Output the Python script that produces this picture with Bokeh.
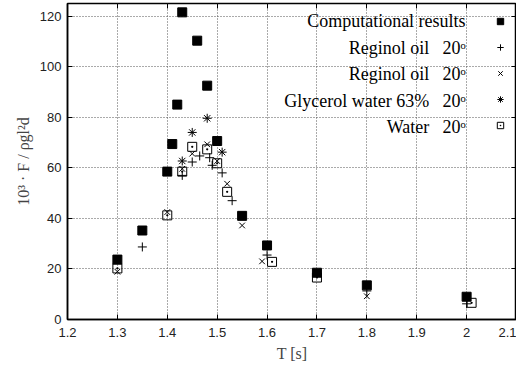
from bokeh.plotting import figure
from bokeh.models import LinearAxis, Legend, LegendItem, Range1d, ColumnDataSource
from bokeh.core.properties import value
from bokeh.embed import file_html
from bokeh.resources import INLINE

# Computational results (filled squares)
comp_T = [1.30, 1.35, 1.40, 1.41, 1.42, 1.43, 1.46, 1.48, 1.50, 1.55, 1.60, 1.70, 1.80, 2.00]
comp_F = [23.7, 35.2, 58.5, 69.4, 85.0, 121.5, 110.3, 92.5, 70.6, 41.0, 29.3, 18.5, 13.5, 9.0]

# Reginol oil (plus)
reg1_T = [1.35, 1.43, 1.45, 1.465, 1.485, 1.49, 1.51, 1.53, 1.60, 1.80, 2.00]
reg1_F = [28.7, 57.0, 62.3, 64.7, 64.0, 61.0, 58.0, 47.0, 25.5, 11.3, 6.2]

# Reginol oil (x)
reg2_T = [1.30, 1.40, 1.43, 1.45, 1.48, 1.50, 1.52, 1.55, 1.59, 1.80]
reg2_F = [18.9, 42.5, 59.6, 65.6, 69.3, 62.7, 53.7, 37.2, 23.0, 9.2]

# Glycerol water 63% (asterisk)
gly_T = [1.43, 1.45, 1.48, 1.51]
gly_F = [62.7, 74.0, 79.6, 66.2]

# Water (square with dot)
wat_T = [1.30, 1.40, 1.43, 1.45, 1.48, 1.50, 1.52, 1.61, 1.70, 2.01]
wat_F = [20.2, 41.2, 58.5, 68.3, 67.3, 61.8, 50.5, 22.8, 16.6, 6.6]

legend_names = ["Reginol oil", "Reginol oil", "Glycerol water 63%", "Water"]
legend_temps = ["20ᵒ", "20ᵒ", "20ᵒ", "20ᵒ"]
comp_label = "Computational results"

x_ticks = [1.2, 1.3, 1.4, 1.5, 1.6, 1.7, 1.8, 1.9, 2.0, 2.1]
y_ticks = [0, 20, 40, 60, 80, 100, 120]

SERIF = "'Liberation Serif'"

p = figure(width=516, height=364, output_backend="svg", toolbar_location=None,
           x_range=Range1d(1.2, 2.1), y_range=Range1d(0, 125),
           min_border_left=67, min_border_right=0, min_border_top=3, min_border_bottom=40)
p.background_fill_color = "white"
p.border_fill_color = "white"
p.outline_line_color = "black"
p.outline_line_width = 1.5

for ax in [p.xaxis[0], p.yaxis[0]]:
    ax.major_tick_in = 5
    ax.major_tick_out = 0
    ax.minor_tick_in = 0
    ax.minor_tick_out = 0
    ax.axis_line_color = "black"
    ax.axis_line_width = 1.5
    ax.major_label_text_font = "Liberation Sans"
    ax.major_label_text_font_size = "13px"
    ax.major_label_text_color = "#222222"
    ax.axis_label_text_font = SERIF
    ax.axis_label_text_font_size = "16px"
    ax.axis_label_text_font_style = "normal"

p.xaxis.ticker = x_ticks
p.yaxis.ticker = y_ticks
p.xaxis.major_label_overrides = {2.0: "2"}
p.xaxis.axis_label = "T [s]"
p.yaxis.axis_label = "10³ · F / ρgl²d"
p.xaxis.major_label_standoff = 8
p.yaxis.major_label_standoff = 6

for loc in ["above", "right"]:
    ticks = x_ticks if loc == "above" else y_ticks
    ax = LinearAxis(ticker=ticks)
    ax.major_tick_in = 5
    ax.major_tick_out = 0
    ax.minor_tick_in = 0
    ax.minor_tick_out = 0
    ax.major_label_overrides = {t: "" for t in ticks}
    ax.major_label_text_font_size = "1px"
    ax.major_label_standoff = 0
    ax.axis_line_color = None
    p.add_layout(ax, loc)

p.xgrid.ticker = x_ticks
p.ygrid.ticker = y_ticks
for g in [p.xgrid[0], p.ygrid[0]]:
    g.grid_line_color = "#555555"
    g.grid_line_dash = "1 2"
    g.grid_line_width = 1

r_comp = p.scatter(comp_T, comp_F, marker="square", size=9, color="black")
r_reg1 = p.scatter(reg1_T, reg1_F, marker="cross", size=9, line_color="black", line_width=1)
r_reg2 = p.scatter(reg2_T, reg2_F, marker="x", size=8, line_color="black", line_width=1)
r_gly = p.scatter(gly_T, gly_F, marker="asterisk", size=9, line_color="black", line_width=1)
r_wat = p.scatter(wat_T, wat_F, marker="square_dot", size=9, line_color="black",
                  fill_color=None, line_width=1)

legend = Legend(items=[LegendItem(label=" ", renderers=[r]) for r in
                       [r_comp, r_reg1, r_reg2, r_gly, r_wat]],
                location="top_right", padding=0, margin=8, spacing=6,
                glyph_height=20, glyph_width=16, label_height=20, label_width=0,
                label_standoff=0, label_text_font_size="8px",
                border_line_color=None, background_fill_alpha=0)
p.add_layout(legend)

# legend texts (rows match the legend layout)
row_y = [117.9, 107.4, 97.0, 86.6, 76.2]
src = ColumnDataSource(dict(x=[1.925] * 4, y=row_y[1:], t=legend_names))
src2 = ColumnDataSource(dict(x=[1.998] * 4, y=row_y[1:], t=legend_temps))
src3 = ColumnDataSource(dict(x=[1.998], y=row_y[:1], t=[comp_label]))
for s in [src, src2, src3]:
    p.text(x="x", y="y", text="t", source=s, text_align="right", text_baseline="middle",
           text_font=value(SERIF), text_font_size="18px", text_color="black")

open("out.html", "w").write(file_html(p, INLINE))
